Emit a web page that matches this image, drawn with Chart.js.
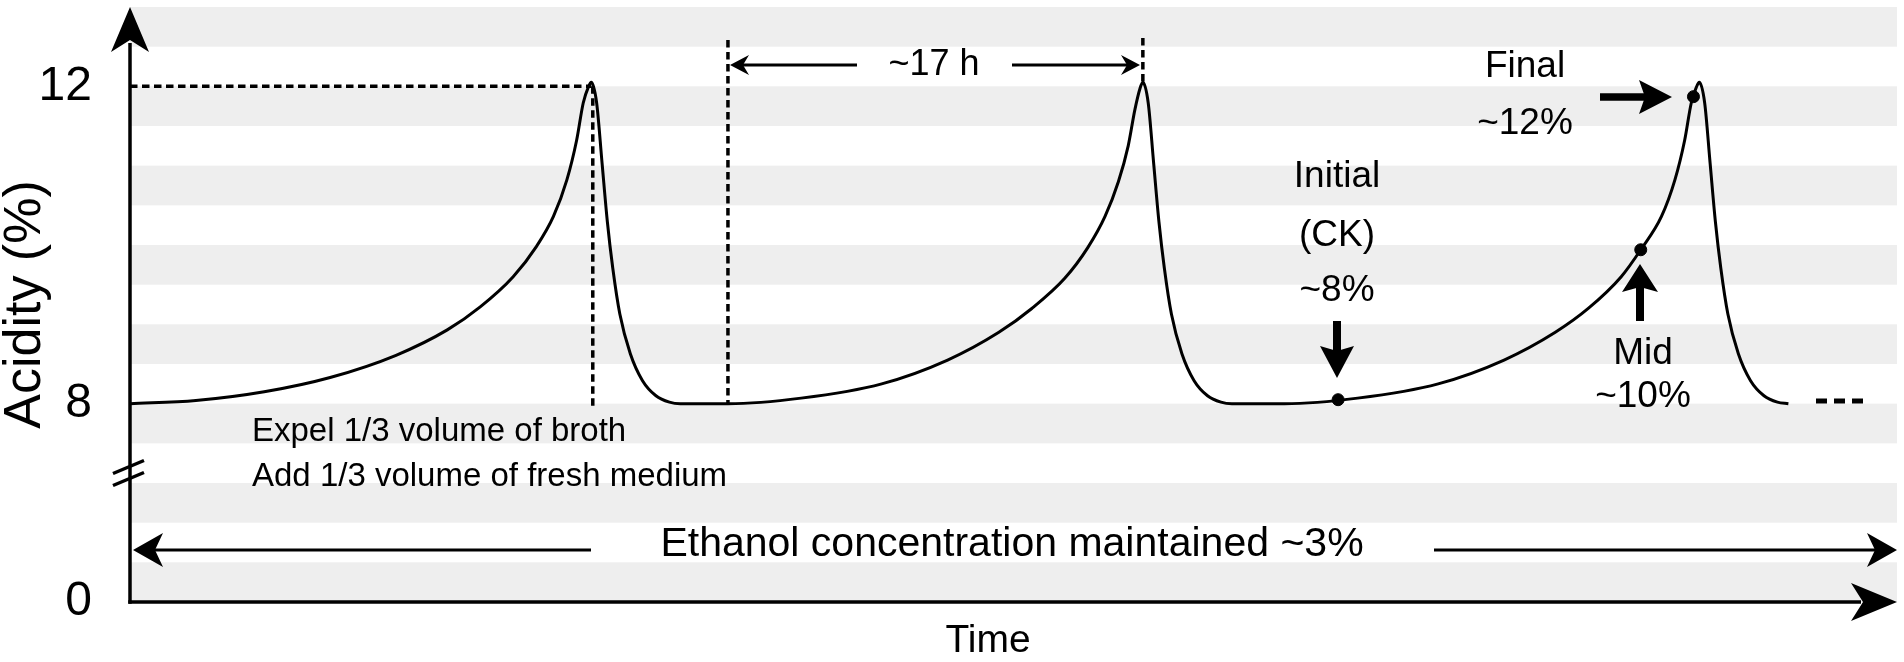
<!DOCTYPE html>
<html lang="en">
<head>
<meta charset="UTF-8">
<title>Acidity cycles</title>
<style>
    html, body { margin: 0; padding: 0; background: #fff; }
    #wrap { width: 1904px; height: 662px; }
</style>
</head>
<body>
<div id="wrap"><canvas id="myChart"></canvas></div>

<script src="https://cdn.jsdelivr.net/npm/chart.js"></script>
<script>
    // time (h) and acidity (%), three cycles
    let v_time = [
        0, 2.7, 5.5, 8.2, 10.9, 13.0, 14.35, 15.7, 16.65, 17.35, 17.9, 18.3, 18.57, 18.78, 18.9,
        19.12, 19.34, 19.56, 19.78, 20.07, 20.5, 21.0, 21.55, 22.1, 22.55,
        24.5, 27.5, 30.8, 33.5, 35.6, 36.95, 38.3, 39.25, 39.95, 40.5, 40.9, 41.17, 41.38, 41.5,
        41.72, 41.94, 42.16, 42.38, 42.67, 43.1, 43.6, 44.15, 44.7, 45.15,
        47.3, 50.3, 53.6, 56.3, 58.4, 59.75, 61.1, 61.9, 62.75, 63.3, 63.7, 63.97, 64.18, 64.3,
        64.52, 64.74, 64.96, 65.18, 65.47, 65.9, 66.4, 66.95, 67.5, 67.95
    ];
    let v_acidity = [
        8.0, 8.04, 8.15, 8.33, 8.61, 8.93, 9.22, 9.60, 9.98, 10.36, 10.82, 11.32, 11.79, 11.99, 12.05,
        11.79, 11.04, 10.29, 9.71, 9.13, 8.63, 8.29, 8.10, 8.02, 8.0,
        8.0, 8.07, 8.25, 8.55, 8.9, 9.2, 9.58, 9.97, 10.36, 10.8, 11.25, 11.7, 11.97, 12.05,
        11.79, 11.04, 10.29, 9.71, 9.13, 8.63, 8.29, 8.10, 8.02, 8.0,
        8.0, 8.07, 8.25, 8.55, 8.9, 9.2, 9.6, 9.94, 10.36, 10.82, 11.32, 11.79, 11.99, 12.05,
        11.79, 11.04, 10.29, 9.71, 9.13, 8.63, 8.29, 8.10, 8.02, 8.0
    ];

    // sampling points (Initial / Mid / Final)
    let v_dotTime = [49.5, 61.9, 64.06];
    let v_dotAcidity = [8.05, 9.94, 11.87];

    // y ticks (axis is broken below 8, bottom is labelled 0)
    let v_tickValues = [5.5, 8, 12];
    let v_tickLabels = ["0", "8", "12"];

    // peaks and start of second cycle
    let v_peakTime = [18.9, 41.5, 64.3];
    let v_cycleStart = 24.5;

    const FONT = '"Liberation Sans", Arial, Helvetica, sans-serif';
    Chart.defaults.font.family = FONT;
    Chart.defaults.color = "#000";

    function f_head(ctx, x, y, ang, len, half, notch) {
        const dx = Math.cos(ang), dy = Math.sin(ang);
        ctx.beginPath();
        ctx.moveTo(x, y);
        ctx.lineTo(x - len * dx - half * dy, y - len * dy + half * dx);
        ctx.lineTo(x - notch * dx, y - notch * dy);
        ctx.lineTo(x - len * dx + half * dy, y - len * dy - half * dx);
        ctx.closePath();
        ctx.fill();
    }

    function f_line(ctx, x1, y1, x2, y2, w, dash) {
        ctx.beginPath();
        ctx.lineWidth = w;
        ctx.setLineDash(dash || []);
        ctx.moveTo(x1, y1);
        ctx.lineTo(x2, y2);
        ctx.stroke();
        ctx.setLineDash([]);
    }

    function f_text(ctx, s, x, y, size, align) {
        ctx.font = size + "px " + FONT;
        ctx.textAlign = align || "center";
        ctx.textBaseline = "middle";
        ctx.fillText(s, x, y);
    }

    // grey bands every half unit + dashed guides
    const backPlugin = {
        id: "back",
        beforeDatasetsDraw(chart) {
            const { ctx, chartArea: a, scales: { x, y } } = chart;
            ctx.save();
            ctx.fillStyle = "#eeeeee";
            for (let v = y.min; v < y.max - 0.01; v += 1) {
                const top = y.getPixelForValue(v + 0.5), bot = y.getPixelForValue(v);
                ctx.fillRect(a.left, top, a.right - a.left, bot - top);
            }
            ctx.strokeStyle = "#000";
            const dash = [7.5, 4.5];
            const p1 = x.getPixelForValue(v_peakTime[0]);
            const y12 = y.getPixelForValue(12);
            f_line(ctx, a.left, y12, p1, y12, 3.5, dash);
            f_line(ctx, p1 + 1.5, y12, p1 + 1.5, y.getPixelForValue(7.95), 3.5, dash);
            const c2 = x.getPixelForValue(v_cycleStart);
            f_line(ctx, c2, 40, c2, y.getPixelForValue(8), 3.5, dash);
            const p2 = x.getPixelForValue(v_peakTime[1]);
            f_line(ctx, p2, 38, p2, y12 - 4, 3.5, dash);
            ctx.restore();
        }
    };

    // axes, arrows and texts
    const frontPlugin = {
        id: "front",
        afterDatasetsDraw(chart) {
            const { ctx, chartArea: a, scales: { x, y } } = chart;
            ctx.save();
            ctx.strokeStyle = "#000";
            ctx.fillStyle = "#000";

            // y axis with arrow
            f_line(ctx, a.left, a.bottom + 1.7, a.left, a.top + 36, 3.5);
            f_head(ctx, a.left, a.top, -Math.PI / 2, 45, 19, 33);
            // x axis with arrow
            f_line(ctx, a.left - 1.7, a.bottom, a.right - 36, a.bottom, 3.5);
            f_head(ctx, a.right, a.bottom, 0, 46, 19, 34);

            // axis break
            const yb = y.getPixelForValue(7.12);
            f_line(ctx, a.left - 17, yb, a.left + 14, yb - 13, 3.4);
            f_line(ctx, a.left - 17, yb + 12, a.left + 14, yb - 1, 3.4);

            // ~17 h span
            f_line(ctx, 857, 65, 738, 65, 3);
            f_head(ctx, 730, 65, Math.PI, 19, 10, 13);
            f_line(ctx, 1012, 65, 1132, 65, 3);
            f_head(ctx, 1140, 65, 0, 19, 10, 13);
            f_text(ctx, "~17 h", 934, 65, 36);

            // medium exchange note
            f_text(ctx, "Expel 1/3 volume of broth", 252, 432, 33, "left");
            f_text(ctx, "Add 1/3 volume of fresh medium", 252, 477, 33, "left");

            // ethanol arrow
            f_line(ctx, 591, 550, 150, 550, 3);
            f_head(ctx, a.left + 3, 550, Math.PI, 30, 17, 22);
            f_line(ctx, 1434, 550, a.right - 20, 550, 3);
            f_head(ctx, a.right, 550, 0, 30, 17, 22);
            f_text(ctx, "Ethanol concentration maintained ~3%", 1012, 545, 41);

            f_text(ctx, "Time", 988, 641, 39);

            // Initial
            f_text(ctx, "Initial", 1337, 177, 37);
            f_text(ctx, "(CK)", 1337, 236, 37);
            f_text(ctx, "~8%", 1337, 291, 37);
            f_line(ctx, 1337, 321, 1337, 354, 8);
            f_head(ctx, 1337, 378, Math.PI / 2, 32, 17, 27);

            // Mid
            f_line(ctx, 1640, 321, 1640, 286, 8);
            f_head(ctx, 1640, 264, -Math.PI / 2, 28, 18, 23);
            f_text(ctx, "Mid", 1643, 354, 37);
            f_text(ctx, "~10%", 1643, 397, 37);

            // Final
            f_text(ctx, "Final", 1525, 67, 37);
            f_text(ctx, "~12%", 1525, 124, 37);
            f_line(ctx, 1600, 97, 1648, 97, 7.5);
            f_head(ctx, 1672, 97, 0, 33, 17, 27);

            // continuation
            f_line(ctx, 1816, 401, 1864, 401, 5, [11, 7]);
            ctx.restore();
        }
    };

    const ctx = document.getElementById("myChart");

    new Chart(ctx, {
        type: "line",
        data: {
            datasets: [{
                label: "Acidity",
                data: v_time.map((t, i) => ({ x: t, y: v_acidity[i] })),
                borderColor: "#000",
                borderWidth: 3,
                pointRadius: 0,
                cubicInterpolationMode: "monotone",
                fill: false
            }, {
                label: "Samples",
                data: v_dotTime.map((t, i) => ({ x: t, y: v_dotAcidity[i] })),
                showLine: false,
                pointRadius: 6,
                pointBackgroundColor: "#000",
                pointBorderColor: "#000"
            }]
        },
        options: {
            responsive: true,
            maintainAspectRatio: false,
            animation: false,
            layout: { padding: { top: 7, right: 7, bottom: 60, left: 0 } },
            plugins: {
                legend: { display: false },
                tooltip: { enabled: false }
            },
            scales: {
                x: {
                    type: "linear",
                    min: 0,
                    max: 72.4,
                    display: false
                },
                y: {
                    type: "linear",
                    min: 5.5,
                    max: 13.0,
                    grid: { display: false },
                    border: { display: false },
                    afterBuildTicks: (s) => { s.ticks = v_tickValues.map(v => ({ value: v })); },
                    afterFit: (s) => { s.width = 130; s.paddingTop = 0; s.paddingBottom = 0; },
                    ticks: {
                        padding: 30,
                        font: { size: 48 },
                        color: "#000",
                        callback: (value) => v_tickLabels[v_tickValues.indexOf(value)]
                    },
                    title: {
                        display: true,
                        text: "Acidity (%)",
                        font: { size: 52, lineHeight: 1 },
                        padding: 0,
                        color: "#000"
                    }
                }
            }
        },
        plugins: [backPlugin, frontPlugin]
    });
</script>
</body>
</html>
